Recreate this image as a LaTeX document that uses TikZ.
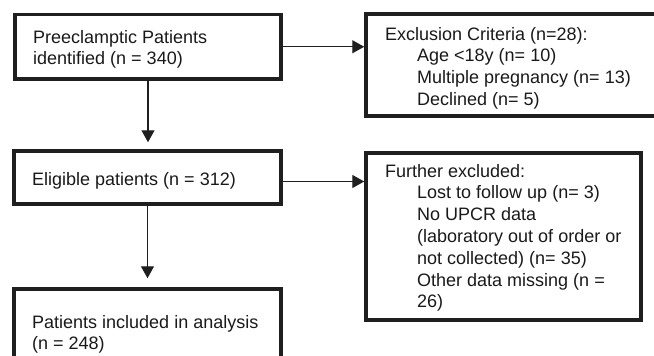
\documentclass[tikz,border=0pt]{standalone}
\usepackage{fontspec}
\setmainfont{Liberation Sans}
\usetikzlibrary{arrows.meta}
\begin{document}
\begin{tikzpicture}[x=1pt,y=-1pt,
  box/.style={draw=black!88, line width=3.5pt, inner sep=0pt},
  txt/.style={anchor=north west, inner sep=0pt, align=left, text=black!90,
    font=\fontsize{18}{21.8}\selectfont},
  arr/.style={draw=black!88, line width=1.3pt, -{Triangle[length=12pt,width=13pt]}}]
\useasboundingbox (0,0) rectangle (654,356);
\clip (0,0) rectangle (654,356);
% boxes
\node[box, minimum width=266pt, minimum height=64.5pt] (b1) at (148,46.75) {};
\node[box, minimum width=294pt, minimum height=102pt] (b2) at (513,65) {};
\node[box, minimum width=267pt, minimum height=53pt] (b3) at (147.5,177.5) {};
\node[box, minimum width=275pt, minimum height=167pt] (b4) at (503.5,236.5) {};
\node[box, minimum width=267pt, minimum height=81pt] (b5) at (147.5,329.5) {};
% texts
\node[txt] (t1) at (33,27.7) {\strut Preeclamptic Patients\\identified (n = 340)};
\node[txt] (t2) at (385,24.7) {\strut Exclusion Criteria (n=28):\\
  \hspace*{32pt}Age <18y (n= 10)\\
  \hspace*{32pt}Multiple pregnancy (n= 13)\\
  \hspace*{32pt}Declined (n= 5)};
\node[txt] (t3) at (32,169.7) {\strut Eligible patients (n = 312)};
\node[txt] (t4) at (385,161.7) {\strut Further excluded:\\
  \hspace*{32pt}Lost to follow up (n= 3)\\
  \hspace*{32pt}No UPCR data\\
  \hspace*{32pt}(laboratory out of order or\\
  \hspace*{32pt}not collected) (n= 35)\\
  \hspace*{32pt}Other data missing (n =\\
  \hspace*{32pt}26)};
\node[txt] (t5) at (32,312.7) {\strut Patients included in analysis\\(n = 248)};
% connectors
\draw[arr] (b1.east) -- (b1.east -| b2.west);
\draw[arr, shorten >=7pt] (b1.south) -- (b1.south |- b3.north);
\draw[arr] ([yshift=-4pt]b3.east) -- ([yshift=-4pt]b3.east -| b4.west);
\draw[arr, shorten >=9pt] (b3.south) -- (b3.south |- b5.north);
\end{tikzpicture}
\end{document}
